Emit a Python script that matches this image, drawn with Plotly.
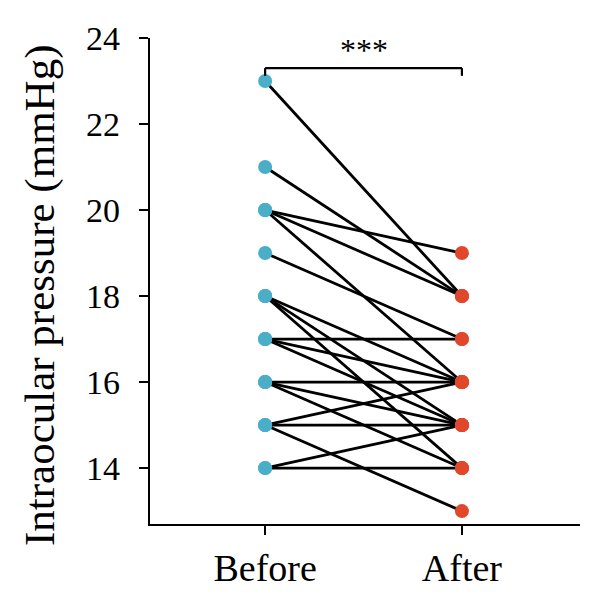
import plotly.graph_objects as go

groups = ["Before", "After"]
before = [23, 21, 20, 20, 20, 19, 18, 18, 18, 17, 17, 17, 16, 16, 16, 15, 15, 15, 14, 14]
after = [18, 18, 19, 18, 16, 17, 16, 15, 14, 17, 16, 15, 16, 15, 14, 16, 15, 13, 15, 14]
y_ticks = [14, 16, 18, 20, 22, 24]
sig_label = "***"
y_title = "Intraocular pressure (mmHg)"

FONT = "Liberation Serif"
fig = go.Figure()

lx, ly = [], []
for b, a in zip(before, after):
    lx += [0, 1, None]
    ly += [b, a, None]
fig.add_trace(go.Scatter(x=lx, y=ly, mode="lines",
                         line=dict(color="black", width=2.8), hoverinfo="skip"))
fig.add_trace(go.Scatter(x=[0] * len(before), y=before, mode="markers",
                         marker=dict(color="#4aaec9", size=14)))
fig.add_trace(go.Scatter(x=[1] * len(after), y=after, mode="markers",
                         marker=dict(color="#e1472b", size=14)))

# significance bracket
top = max(before)
fig.add_shape(type="line", x0=0, x1=1, y0=top + 0.3, y1=top + 0.3, xref="x", yref="y",
              line=dict(color="black", width=2.2))
fig.add_shape(type="line", x0=0, x1=0, y0=top + 0.3, y1=top + 0.12, xref="x", yref="y",
              line=dict(color="black", width=2.2))
fig.add_shape(type="line", x0=1, x1=1, y0=top + 0.3, y1=top + 0.12, xref="x", yref="y",
              line=dict(color="black", width=2.2))
fig.add_annotation(x=0.5, y=top + 0.3, yshift=-2, text=sig_label, showarrow=False,
                   yanchor="bottom", font=dict(family=FONT, size=32, color="black"))

# y-axis title
fig.add_annotation(xref="paper", yref="paper", x=-0.256, y=0.471, text=y_title,
                   textangle=-90, showarrow=False, xanchor="center", yanchor="middle",
                   font=dict(family=FONT, size=43, color="black"))

fig.update_layout(
    width=600, height=605,
    margin=dict(l=150, r=20, t=38, b=81),
    plot_bgcolor="white", paper_bgcolor="white",
    showlegend=False,
    font=dict(family=FONT, color="black"),
    xaxis=dict(range=[-0.585, 1.6], tickvals=[0, 1], ticktext=groups,
               showline=True, linecolor="black", linewidth=2.2,
               ticks="outside", ticklen=9, tickwidth=2.2, tickcolor="black",
               showgrid=False, zeroline=False, ticklabelstandoff=0,
               tickfont=dict(family=FONT, size=38, color="black")),
    yaxis=dict(range=[12.7, 24], tickvals=y_ticks,
               showline=True, linecolor="black", linewidth=2.2,
               ticks="outside", ticklen=9, tickwidth=2.2, tickcolor="black",
               showgrid=False, zeroline=False, ticklabelstandoff=12,
               tickfont=dict(family=FONT, size=34, color="black")),
)
fig.write_html("out.html")
